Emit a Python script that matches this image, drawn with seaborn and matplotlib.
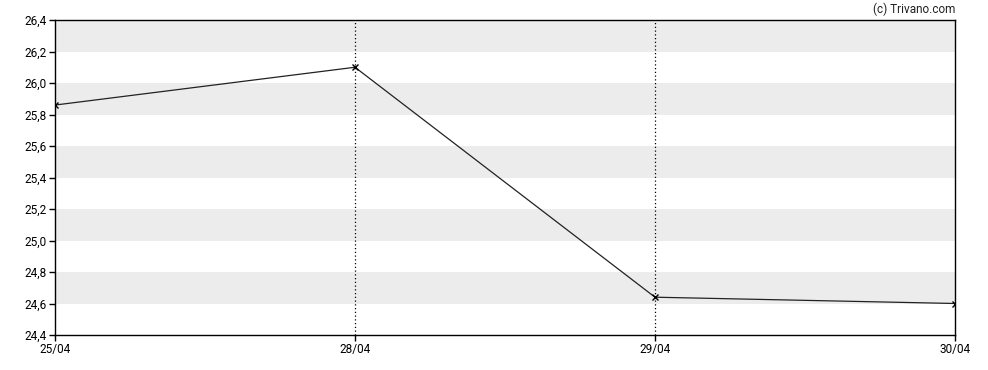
import matplotlib
matplotlib.use("Agg")
import matplotlib.pyplot as plt
import seaborn as sns
import pandas as pd

dates = ["25/04", "28/04", "29/04", "30/04"]
prices = [25.86, 26.10, 24.64, 24.60]
y_ticks = [24.4, 24.6, 24.8, 25.0, 25.2, 25.4, 25.6, 25.8, 26.0, 26.2, 26.4]

df = pd.DataFrame({"pos": range(len(dates)), "price": prices})

sns.set_style("white")
plt.rcParams["font.family"] = ["Roboto", "DejaVu Sans"]

fig = plt.figure(figsize=(9.88, 3.7), dpi=100)
ax = fig.add_axes([55 / 988, 1 - 335 / 370, 900 / 988, 315 / 370])

# alternating grey bands
for i in range(len(y_ticks) - 1):
    if i % 2 == 1:
        ax.axhspan(y_ticks[i], y_ticks[i + 1], color="#ececec", lw=0, zorder=0)

# dotted vertical lines at inner dates
for p in df["pos"][1:-1]:
    ax.axvline(p, color="black", ls=(0, (1, 2)), lw=0.9, zorder=1)

sns.lineplot(data=df, x="pos", y="price", ax=ax, color="#222222", lw=0.9,
             marker="x", markersize=4, markeredgecolor="black",
             markeredgewidth=1.0, zorder=3)

ax.set_xlim(0, len(dates) - 1)
ax.set_ylim(y_ticks[0], y_ticks[-1])
ax.set_xticks(df["pos"])
ax.set_xticklabels(dates)
ax.set_yticks(y_ticks)
ax.set_yticklabels([f"{v:.1f}".replace(".", ",") for v in y_ticks])
ax.set_xlabel("")
ax.set_ylabel("")
ax.tick_params(axis="both", labelsize=8.5, colors="black", length=4, width=1,
               direction="out", left=True, bottom=True, pad=2)

for s in ax.spines.values():
    s.set_visible(True)
    s.set_color("black")
    s.set_linewidth(1)

fig.text(955 / 988, 1 - 9 / 370, "(c) Trivano.com", ha="right", va="center",
         fontsize=8.5, color="#222222")

fig.savefig("out.png", dpi=100)
